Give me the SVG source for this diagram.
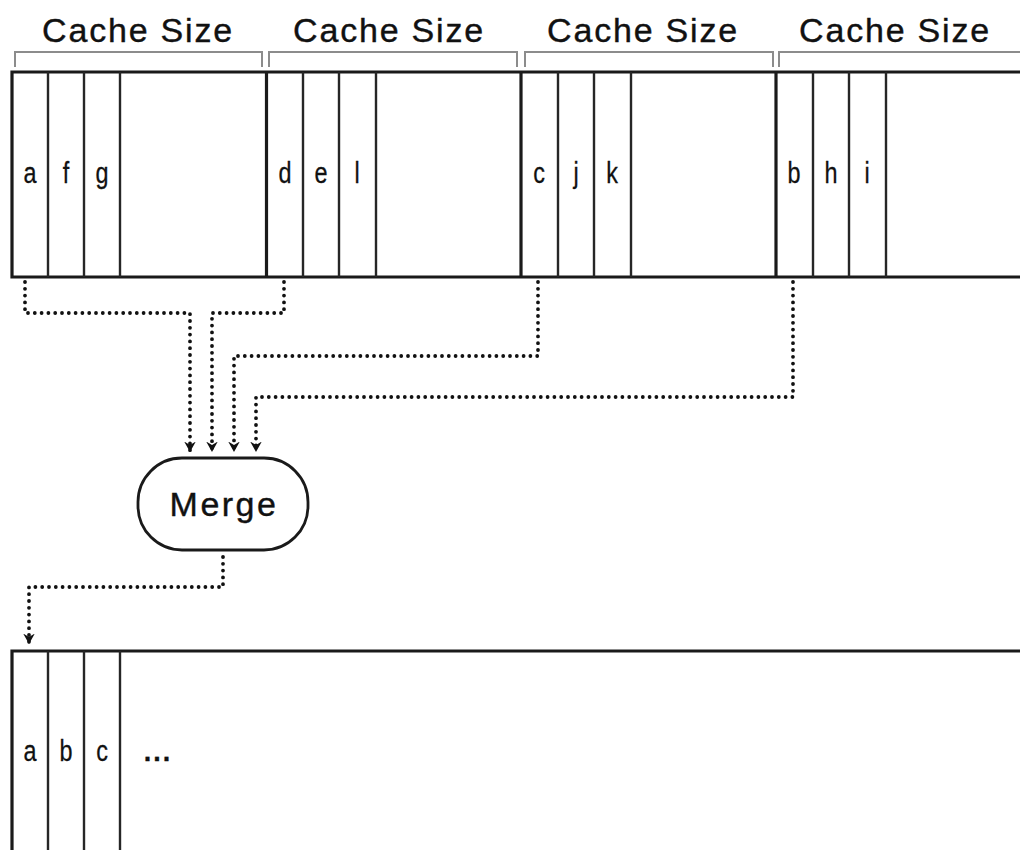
<svg xmlns="http://www.w3.org/2000/svg" width="1020" height="850" viewBox="0 0 1020 850">
<style>
.bg{fill:#fff}
.frame{fill:none;stroke:#1a1a1a;stroke-width:3.2}
.col{fill:none;stroke:#262626;stroke-width:2.4}
.br{fill:none;stroke:#8c8c8c;stroke-width:2}
.title{font-family:"Liberation Sans",Arial,sans-serif;font-size:34px;letter-spacing:1.8px;fill:#111;text-anchor:middle;stroke:#111;stroke-width:0.4}
.cell{font-family:"Liberation Sans",Arial,sans-serif;font-size:30px;fill:#111;text-anchor:middle;stroke:#111;stroke-width:0.3}
.merge{font-family:"Liberation Sans",Arial,sans-serif;font-size:34px;letter-spacing:2.5px;fill:#111;text-anchor:middle;stroke:#111;stroke-width:0.4}
.conn{fill:none;stroke:#111;stroke-width:3.8;stroke-linecap:round;stroke-dasharray:0 6.8}
.box{fill:#fff;stroke:#1a1a1a;stroke-width:2.8}
</style>
<defs>
<marker id="ah" markerUnits="userSpaceOnUse" markerWidth="14" markerHeight="14" refX="9" refY="6" orient="auto" viewBox="0 0 12 12">
<path d="M0,1 L9,6 L0,11 L3,6 Z" fill="#111"/>
</marker>
</defs>
<rect class="bg" x="0" y="0" width="1020" height="850"/>

<g id="brackets">
<path class="br" d="M15,67 V52 H262 V67"/>
<path class="br" d="M269,67 V52 H517 V67"/>
<path class="br" d="M525,67 V52 H773 V67"/>
<path class="br" d="M779,67 V52 H1022"/>
<text class="title" x="138" y="42">Cache Size</text>
<text class="title" x="389" y="42">Cache Size</text>
<text class="title" x="643" y="42">Cache Size</text>
<text class="title" x="895" y="42">Cache Size</text>
</g>

<g id="run-array">
<path class="frame" d="M1022,72 H12 V277 H1022"/>
<g id="block1">
<line class="col" x1="48" y1="72" x2="48" y2="277"/>
<line class="col" x1="84" y1="72" x2="84" y2="277"/>
<line class="col" x1="120" y1="72" x2="120" y2="277"/>
<text class="cell" transform="translate(30,183) scale(0.78,1)">a</text>
<text class="cell" transform="translate(66,183) scale(0.78,1)">f</text>
<text class="cell" transform="translate(102,183) scale(0.78,1)">g</text>
</g>
<g id="block2">
<line class="frame" x1="266.5" y1="72" x2="266.5" y2="277"/>
<line class="col" x1="303" y1="72" x2="303" y2="277"/>
<line class="col" x1="339" y1="72" x2="339" y2="277"/>
<line class="col" x1="376" y1="72" x2="376" y2="277"/>
<text class="cell" transform="translate(285,183) scale(0.78,1)">d</text>
<text class="cell" transform="translate(321,183) scale(0.78,1)">e</text>
<text class="cell" transform="translate(357,183) scale(0.78,1)">l</text>
</g>
<g id="block3">
<line class="frame" x1="521" y1="72" x2="521" y2="277"/>
<line class="col" x1="558" y1="72" x2="558" y2="277"/>
<line class="col" x1="594" y1="72" x2="594" y2="277"/>
<line class="col" x1="631" y1="72" x2="631" y2="277"/>
<text class="cell" transform="translate(539,183) scale(0.78,1)">c</text>
<text class="cell" transform="translate(576,183) scale(0.78,1)">j</text>
<text class="cell" transform="translate(612,183) scale(0.78,1)">k</text>
</g>
<g id="block4">
<line class="frame" x1="776" y1="72" x2="776" y2="277"/>
<line class="col" x1="813" y1="72" x2="813" y2="277"/>
<line class="col" x1="849" y1="72" x2="849" y2="277"/>
<line class="col" x1="886" y1="72" x2="886" y2="277"/>
<text class="cell" transform="translate(794,183) scale(0.78,1)">b</text>
<text class="cell" transform="translate(831,183) scale(0.78,1)">h</text>
<text class="cell" transform="translate(867,183) scale(0.78,1)">i</text>
</g>
</g>

<g id="connectors">
<path class="conn" marker-end="url(#ah)" d="M25,282 V313 H190 V452"/>
<path class="conn" marker-end="url(#ah)" d="M284,282 V313 H212 V452"/>
<path class="conn" marker-end="url(#ah)" d="M538,282 V356 H234 V452"/>
<path class="conn" marker-end="url(#ah)" d="M793,282 V397 H256 V452"/>
<path class="conn" marker-end="url(#ah)" d="M223,557 V587 H29 V644"/>
</g>

<g id="merge">
<rect class="box" x="138" y="458" width="170" height="92" rx="44" ry="44"/>
<text class="merge" x="224" y="516">Merge</text>
</g>

<g id="output-array">
<path class="frame" d="M1022,651 H12 V852"/>
<line class="col" x1="48" y1="651" x2="48" y2="852"/>
<line class="col" x1="84" y1="651" x2="84" y2="852"/>
<line class="col" x1="120" y1="651" x2="120" y2="852"/>
<text class="cell" transform="translate(30,761) scale(0.78,1)">a</text>
<text class="cell" transform="translate(66,761) scale(0.78,1)">b</text>
<text class="cell" transform="translate(102,761) scale(0.78,1)">c</text>
<text class="cell" x="158" y="761" style="font-size:27px;font-weight:bold;letter-spacing:2px">...</text>
</g>
</svg>
